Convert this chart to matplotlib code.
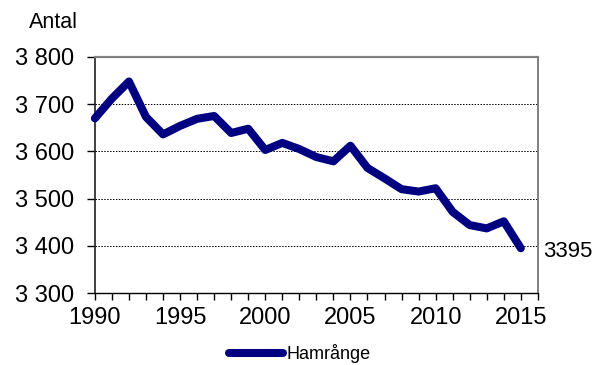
"""Hamrånge population chart, 1990-2015."""

import matplotlib
matplotlib.use("Agg")
from matplotlib import pyplot as plt
from matplotlib.ticker import FixedLocator, FuncFormatter, MultipleLocator

years = list(range(1990, 2016))
population = [
    3670, 3712, 3748, 3673, 3636, 3654, 3669, 3675, 3639, 3648,
    3603, 3618, 3605, 3588, 3579, 3612, 3565, 3543, 3520, 3515,
    3522, 3472, 3444, 3437, 3452, 3395,
]
series_name = "Hamrånge"
y_label = "Antal"
last_label = "3395"

plt.rcParams["font.family"] = ["Liberation Sans", "DejaVu Sans"]

fig = plt.figure(figsize=(5.93, 3.65), dpi=100)
ax = fig.add_axes([0.160, 0.197, 0.747, 0.647])

line_color = "#000080"
ax.plot(years, population, color=line_color, linewidth=5.8,
        solid_joinstyle="round", solid_capstyle="round",
        label=series_name, zorder=3, clip_on=False)

ax.set_xlim(1990, 2016)
ax.set_ylim(3300, 3800)

ax.yaxis.set_major_locator(MultipleLocator(100))
ax.yaxis.set_major_formatter(
    FuncFormatter(lambda v, _: f"{int(v):,}".replace(",", " "))
)
ax.xaxis.set_major_locator(FixedLocator([1990, 1995, 2000, 2005, 2010, 2015]))
ax.xaxis.set_minor_locator(MultipleLocator(1))

for y in [3400, 3500, 3600, 3700]:
    ax.axhline(y, color="black", linewidth=0.7, linestyle=(0, (1.5, 1.5)), zorder=1)

ax.tick_params(axis="both", which="both", direction="out", labelsize=17,
               color="black", width=1.0)
ax.tick_params(axis="y", length=6, pad=9)
ax.tick_params(axis="x", which="major", length=5, pad=5)
ax.tick_params(axis="x", which="minor", length=5)

ax.spines["top"].set_color("#808080")
ax.spines["top"].set_linewidth(1.6)
ax.spines["right"].set_color("#808080")
ax.spines["right"].set_linewidth(1.4)
ax.spines["left"].set_color("#202020")
ax.spines["left"].set_linewidth(1.2)
ax.spines["bottom"].set_color("black")
ax.spines["bottom"].set_linewidth(1.0)

fig.text(0.049, 0.937, y_label, fontsize=15.5, ha="left", va="center")

ax.annotate(last_label, xy=(1.0, population[-1]),
            xycoords=("axes fraction", "data"),
            xytext=(3.5, -2), textcoords="offset points",
            fontsize=16, ha="left", va="center")

fig.legend(loc="center", bbox_to_anchor=(0.505, 0.032), frameon=False,
           fontsize=13, handlelength=3.0, handletextpad=0.2,
           borderaxespad=0)

fig.savefig("out.png", dpi=100)
